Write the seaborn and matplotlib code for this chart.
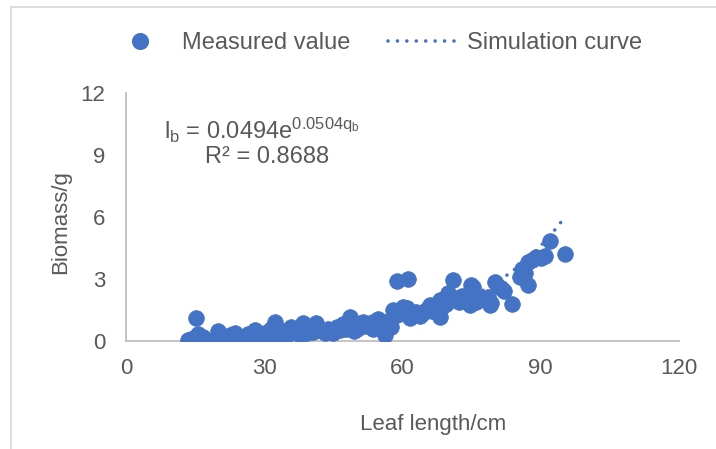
import numpy as np
import pandas as pd
import matplotlib
matplotlib.use("Agg")
import matplotlib.pyplot as plt
from matplotlib.lines import Line2D
import seaborn as sns

# ---- data ----
leaf_length = [
    13.5, 14.2, 14.5, 15.2, 15.7, 16.8,
    19.5, 20.0, 20.5, 21.5, 22.0, 22.5, 23.6, 24.0, 24.8, 25.8, 26.5, 27.0, 28.0, 28.5, 29.0, 30.1, 30.5,
    31.0, 31.5, 32.3, 32.8, 33.8, 34.5, 35.0, 35.9, 36.5, 37.7, 38.4, 38.8, 39.2, 40.0,
    40.5, 41.3, 42.0, 43.1, 43.8, 44.5, 45.0, 45.7, 46.5, 47.0, 47.8, 48.6, 49.0, 49.5, 50.2,
    50.7, 51.5, 52.2, 52.9, 53.5, 54.0, 54.7, 55.4, 56.2, 56.8, 57.6, 57.3, 58.0,
    58.7, 58.8, 59.3, 60.1, 60.9, 61.2, 61.6, 62.2, 63.0, 63.8, 64.5, 65.2, 65.9, 66.5, 67.2, 68.1, 68.1, 68.8, 69.9, 69.5,
    71.0, 71.5, 72.2, 73.0, 73.8, 74.6, 74.9, 75.3, 76.0, 76.7, 78.6, 78.9, 79.3, 80.0, 80.4, 81.4, 82.0, 83.8,
    85.5, 86.5, 86.0, 87.2, 87.2, 88.0, 89.0, 90.1, 91.0, 92.1, 95.2,
]
biomass = [
    0.05, 0.10, 0.02, 1.10, 0.35, 0.20,
    0.10, 0.50, 0.25, 0.12, 0.05, 0.30, 0.37, 0.10, 0.20, 0.20, 0.35, 0.10, 0.53, 0.25, 0.15, 0.29, 0.45,
    0.20, 0.60, 0.93, 0.40, 0.13, 0.50, 0.30, 0.69, 0.45, 0.29, 0.85, 0.50, 0.37, 0.60,
    0.45, 0.85, 0.55, 0.37, 0.60, 0.50, 0.37, 0.69, 0.55, 0.80, 0.60, 1.18, 0.85, 0.50, 0.60,
    0.69, 0.90, 0.75, 0.85, 0.60, 0.95, 1.05, 0.86, 0.29, 0.70, 0.69, 1.00, 1.50,
    1.26, 2.92, 1.40, 1.66, 1.58, 3.01, 1.10, 1.30, 1.42, 1.20, 1.34, 1.50, 1.74, 1.45, 1.60, 1.18, 1.98, 1.70, 2.30, 1.80,
    2.95, 2.10, 1.90, 2.20, 2.20, 1.74, 2.70, 2.60, 1.90, 2.14, 2.14, 1.74, 1.85, 2.87, 2.70, 2.56, 2.40, 1.79,
    3.10, 3.27, 3.50, 2.71, 3.84, 3.90, 4.08, 4.00, 4.10, 4.85, 4.21,
]
# trend line coefficients shown on the chart: l_b = 0.0494 e^(0.0504 q_b)
coef_a = 0.0494
coef_b = 0.0504
r_squared = 0.8688
x_ticks = [0, 30, 60, 90, 120]
y_ticks = [0, 3, 6, 9, 12]

legend_labels = ["Measured value", "Simulation curve"]
x_label = "Leaf length/cm"
y_label = "Biomass/g"

df = pd.DataFrame({"x": leaf_length, "y": biomass})
trend_x = np.linspace(min(leaf_length), max(leaf_length) + 0.3, 200)
trend = pd.DataFrame({"x": trend_x, "y": coef_a * np.exp(coef_b * trend_x)})

sns.set_theme(style="white")
plt.rcParams["font.family"] = ["Liberation Sans", "DejaVu Sans"]
plt.rcParams["mathtext.fontset"] = "custom"
plt.rcParams["mathtext.rm"] = "Liberation Sans"
plt.rcParams["mathtext.it"] = "Liberation Sans"

BLUE = "#4472C4"
TXT = "#595959"
AX = "#BFBFBF"
DOTS = (0, (0.01, 2.6))

fig = plt.figure(figsize=(7.16, 4.49), dpi=100)
ax = fig.add_axes([126 / 716, 1 - 341 / 449, (679 - 126) / 716, (341 - 93) / 449])

sns.scatterplot(data=df, x="x", y="y", ax=ax, color=BLUE, s=128, edgecolor=BLUE,
                linewidth=0.5, zorder=3, legend=False)
sns.lineplot(data=trend, x="x", y="y", ax=ax, color=BLUE, estimator=None, sort=True,
             linewidth=2.6, linestyle=DOTS, dash_capstyle="round",
             zorder=4, legend=False)

ax.set_xlim(0, 120)
ax.set_ylim(0, 12)
ax.set_xticks(x_ticks)
ax.set_yticks(y_ticks)
ax.set_xticklabels([str(t) for t in x_ticks])
ax.set_yticklabels([str(t) for t in y_ticks])
ax.tick_params(axis="both", direction="in", length=5, width=1.1, color=AX,
               labelcolor=TXT, labelsize=16)
ax.tick_params(axis="y", pad=15)
ax.tick_params(axis="x", pad=12)
for side in ["top", "right"]:
    ax.spines[side].set_visible(False)
for side in ["left", "bottom"]:
    ax.spines[side].set_color(AX)
    ax.spines[side].set_linewidth(1.3)

ax.set_xlabel(x_label, fontsize=16, color=TXT)
ax.set_ylabel(y_label, fontsize=16, color=TXT)
ax.xaxis.set_label_coords(0.555, -0.335)
ax.xaxis.label.set_va("center")
ax.yaxis.set_label_coords(-0.119, 0.48)
ax.yaxis.label.set_va("center")

ax.text(0.246, 0.851, r"l$_\mathregular{b}$ = 0.0494e$^\mathregular{0.0504q_b}$",
        transform=ax.transAxes, ha="center", va="center", fontsize=17, color=TXT)
ax.text(0.255, 0.742, "R² = %.4f" % r_squared, transform=ax.transAxes,
        ha="center", va="center", fontsize=17, color=TXT)

handles = [
    Line2D([], [], linestyle="none", marker="o", markersize=11.3, color=BLUE),
    Line2D([], [], color=BLUE, linewidth=2.6, linestyle=DOTS, dash_capstyle="round"),
]
fig.legend(handles, legend_labels, loc="center left", bbox_to_anchor=(102 / 716, 1 - 43 / 449),
           ncol=2, frameon=False, fontsize=17, labelcolor=TXT, handlelength=3.2,
           handletextpad=0.17, columnspacing=1.6, borderpad=0, borderaxespad=0)

# chart border (cropped: only top and left visible)
fig.add_artist(Line2D([10.5 / 716, 10.5 / 716], [0, 1 - 6.5 / 449], color="#D9D9D9",
                      linewidth=1.3, transform=fig.transFigure))
fig.add_artist(Line2D([10.5 / 716, 1], [1 - 6.5 / 449, 1 - 6.5 / 449], color="#D9D9D9",
                      linewidth=1.3, transform=fig.transFigure))

fig.savefig("out.png", dpi=100)
